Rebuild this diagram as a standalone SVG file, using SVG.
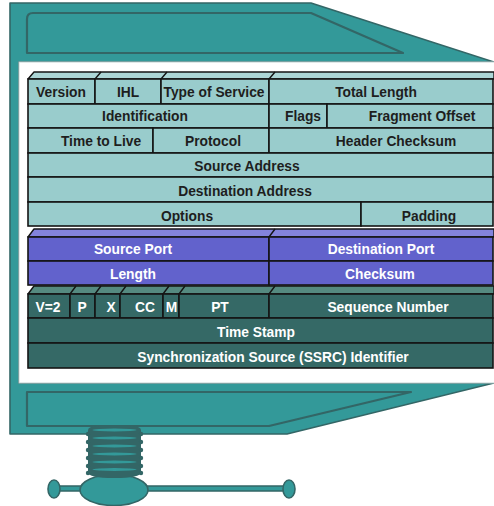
<svg xmlns="http://www.w3.org/2000/svg" width="494" height="506" viewBox="0 0 494 506">
  <style>
    .clamp { fill: #339999; stroke: #336666; stroke-width: 1.6; stroke-linejoin: round; }
    .inset { fill: none; stroke: #336666; stroke-width: 2.2; stroke-linejoin: round; }
    .ip { fill: #99cccc; stroke: #141414; stroke-width: 1.6; }
    .ip-lip { fill: #acd6d6; stroke: #141414; stroke-width: 1.4; stroke-linejoin: round; }
    .udp { fill: #6262cc; stroke: #141414; stroke-width: 1.6; }
    .udp-lip { fill: #8383dc; stroke: #141414; stroke-width: 1.4; stroke-linejoin: round; }
    .rtp { fill: #356966; stroke: #141414; stroke-width: 1.6; }
    .rtp-lip { fill: #558a80; stroke: #141414; stroke-width: 1.4; stroke-linejoin: round; }
    .edge { fill: none; stroke: #141414; stroke-width: 1.4; }
    .thread { fill: #339999; }
    text { font-family: "Liberation Sans", Arial, sans-serif; font-weight: bold; font-size: 13.8px; text-anchor: middle; }
    .dark { fill: #1e1e1e; }
    .light { fill: #ffffff; }
  </style>

  <!-- clamp frame -->
  <g id="clamp">
    <path class="clamp" d="M10,3 H311 L494,62 H19 V383 H494 L287,434 H10 Z"/>
    <path class="inset" d="M27,19 Q27,13 33,13 H311 L403,53 H27 Z"/>
    <path class="inset" d="M27,392 H411 L269,426 H27 Z"/>
    <rect x="19" y="62" width="476" height="321" fill="#ffffff" stroke="#c2d2d2" stroke-width="1"/>
  </g>

  <!-- screw and handle -->
  <g id="screw">
    <rect x="55" y="486" width="234" height="5" class="clamp"/>
    <ellipse cx="54" cy="489" rx="6" ry="9" class="clamp"/>
    <ellipse cx="289" cy="489" rx="6" ry="9" class="clamp"/>
    <ellipse cx="114" cy="490" rx="34" ry="15.5" class="clamp"/>
    <!-- threaded shaft -->
    <path d="M88,430 Q88,426 100,426 H129 Q141,426 141,430 V472 Q141,478 114,478 Q88,478 88,472 Z" fill="#336666"/>
    <g fill="#336666">
      <circle cx="88" cy="434" r="2.2"/><circle cx="141" cy="434" r="2.2"/>
      <circle cx="88" cy="442" r="2.2"/><circle cx="141" cy="442" r="2.2"/>
      <circle cx="88" cy="450" r="2.2"/><circle cx="141" cy="450" r="2.2"/>
      <circle cx="88" cy="458" r="2.2"/><circle cx="141" cy="458" r="2.2"/>
      <circle cx="88" cy="466" r="2.2"/><circle cx="141" cy="466" r="2.2"/>
      <circle cx="88" cy="473" r="2.2"/><circle cx="141" cy="473" r="2.2"/>
    </g>
    <ellipse class="thread" cx="114.5" cy="430" rx="22" ry="1.4"/>
    <ellipse class="thread" cx="114.5" cy="438" rx="22" ry="1.4"/>
    <ellipse class="thread" cx="114.5" cy="446" rx="22" ry="1.4"/>
    <ellipse class="thread" cx="114.5" cy="454" rx="22" ry="1.4"/>
    <ellipse class="thread" cx="114.5" cy="462" rx="22" ry="1.4"/>
    <ellipse class="thread" cx="114.5" cy="469.5" rx="22" ry="1.4"/>
  </g>

  <!-- IP header -->
  <g id="ip-header">
    <path class="ip-lip" d="M28,79 L34,72 H494 V79 Z"/>
    <path class="edge" d="M95,79 L101,72 M161,79 L167,72 M269,79 L275,72"/>
    <g id="ip-version"><rect class="ip" x="28" y="79" width="67" height="25"/><text class="dark" x="61" y="96.5">Version</text></g>
    <g id="ip-ihl"><rect class="ip" x="95" y="79" width="66" height="25"/><text class="dark" x="128" y="96.5">IHL</text></g>
    <g id="ip-tos"><rect class="ip" x="161" y="79" width="108" height="25"/><text class="dark" x="214" y="96.5">Type of Service</text></g>
    <g id="ip-total-length"><rect class="ip" x="269" y="79" width="224" height="25"/><text class="dark" x="376" y="96.5">Total Length</text></g>

    <g id="ip-identification"><rect class="ip" x="28" y="104" width="241" height="24"/><text class="dark" x="145" y="121">Identification</text></g>
    <g id="ip-flags"><rect class="ip" x="269" y="104" width="58" height="24"/><text class="dark" x="303" y="121">Flags</text></g>
    <g id="ip-fragment-offset"><rect class="ip" x="327" y="104" width="166" height="24"/><text class="dark" x="422" y="121">Fragment Offset</text></g>

    <g id="ip-ttl"><rect class="ip" x="28" y="128" width="125" height="25"/><text class="dark" x="101" y="146">Time to Live</text></g>
    <g id="ip-protocol"><rect class="ip" x="153" y="128" width="116" height="25"/><text class="dark" x="213" y="146">Protocol</text></g>
    <g id="ip-checksum"><rect class="ip" x="269" y="128" width="224" height="25"/><text class="dark" x="396" y="146">Header Checksum</text></g>

    <g id="ip-source"><rect class="ip" x="28" y="153" width="465" height="24"/><text class="dark" x="247" y="171">Source Address</text></g>
    <g id="ip-destination"><rect class="ip" x="28" y="177" width="465" height="25"/><text class="dark" x="245" y="196">Destination Address</text></g>

    <g id="ip-options"><rect class="ip" x="28" y="202" width="333" height="24"/><text class="dark" x="187" y="221">Options</text></g>
    <g id="ip-padding"><rect class="ip" x="361" y="202" width="132" height="24"/><text class="dark" x="429" y="221">Padding</text></g>
  </g>

  <!-- UDP header -->
  <g id="udp-header">
    <path class="udp-lip" d="M28,237 L34,229 H494 V237 Z"/>
    <path class="edge" d="M269,237 L275,229"/>
    <g id="udp-source-port"><rect class="udp" x="28" y="237" width="241" height="24"/><text class="light" x="133" y="253.5">Source Port</text></g>
    <g id="udp-destination-port"><rect class="udp" x="269" y="237" width="224" height="24"/><text class="light" x="381" y="253.5">Destination Port</text></g>
    <g id="udp-length"><rect class="udp" x="28" y="261" width="241" height="24"/><text class="light" x="133" y="278.5">Length</text></g>
    <g id="udp-checksum"><rect class="udp" x="269" y="261" width="224" height="24"/><text class="light" x="380" y="278.5">Checksum</text></g>
  </g>

  <!-- RTP header -->
  <g id="rtp-header">
    <path class="rtp-lip" d="M28,294 L34,286 H494 V294 Z"/>
    <path class="edge" d="M70,294 L76,286 M95,294 L101,286 M120,294 L126,286 M163,294 L169,286 M179,294 L185,286 M269,294 L275,286"/>
    <g id="rtp-version"><rect class="rtp" x="28" y="294" width="42" height="24"/><text class="light" x="48" y="311.5">V=2</text></g>
    <g id="rtp-padding"><rect class="rtp" x="70" y="294" width="25" height="24"/><text class="light" x="82" y="311.5">P</text></g>
    <g id="rtp-extension"><rect class="rtp" x="95" y="294" width="25" height="24"/><text class="light" x="111" y="311.5">X</text></g>
    <g id="rtp-cc"><rect class="rtp" x="120" y="294" width="43" height="24"/><text class="light" x="145" y="311.5">CC</text></g>
    <g id="rtp-marker"><rect class="rtp" x="163" y="294" width="16" height="24"/><text class="light" x="171.5" y="311.5">M</text></g>
    <g id="rtp-pt"><rect class="rtp" x="179" y="294" width="90" height="24"/><text class="light" x="220" y="311.5">PT</text></g>
    <g id="rtp-sequence"><rect class="rtp" x="269" y="294" width="224" height="24"/><text class="light" x="388" y="311.5">Sequence Number</text></g>
    <g id="rtp-timestamp"><rect class="rtp" x="28" y="318" width="465" height="25"/><text class="light" x="256" y="336.5">Time Stamp</text></g>
    <g id="rtp-ssrc"><rect class="rtp" x="28" y="343" width="465" height="25"/><text class="light" x="273" y="361.5">Synchronization Source (SSRC) Identifier</text></g>
  </g>
</svg>
